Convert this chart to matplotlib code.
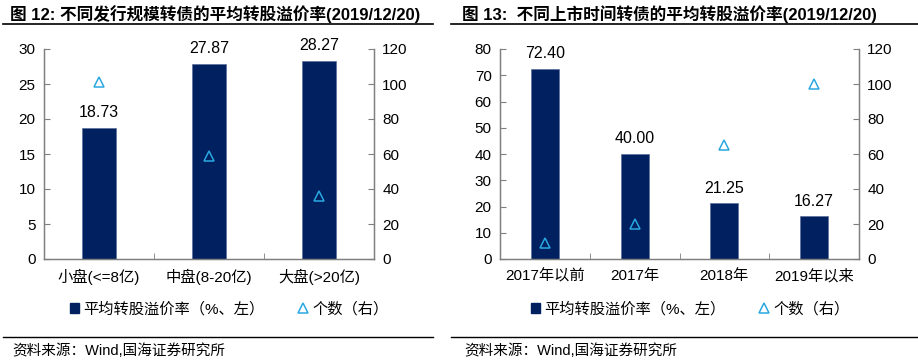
import matplotlib
matplotlib.use("Agg")
import matplotlib.pyplot as plt
from matplotlib.patches import Patch
from matplotlib.lines import Line2D
import numpy as np

plt.rcParams['font.family'] = ['Liberation Sans', 'Noto Sans CJK SC', 'DejaVu Sans']

# ---- data ----
left_categories = ["小盘(<=8亿)", "中盘(8-20亿)", "大盘(>20亿)"]
left_premium = [18.73, 27.87, 28.27]
left_count = [101, 59, 36]

right_categories = ["2017年以前", "2017年", "2018年", "2019年以来"]
right_premium = [72.40, 40.00, 21.25, 16.27]
right_count = [9, 20, 65, 100]

left_title = "图 12: 不同发行规模转债的平均转股溢价率(2019/12/20)"
right_title = "图 13:  不同上市时间转债的平均转股溢价率(2019/12/20)"
source_text = "资料来源：Wind,国海证券研究所"
legend_bar = "平均转股溢价率（%、左）"
legend_tri = "个数（右）"

BAR = "#002060"
TRI = "#2AA8E0"
SPINE = "#7f7f7f"

W, H = 918, 360
fig = plt.figure(figsize=(W / 100, H / 100), dpi=100)


def px_axes(x0, y0, x1, y1):
    return fig.add_axes([x0 / W, 1 - y1 / H, (x1 - x0) / W, (y1 - y0) / H])


def draw_panel(x0, x1, cats, prem, cnt, ylim_l, yticks_l, title, title_x, line_x0, line_x1, leg_x):
    ax = px_axes(x0, 49, x1, 259)
    n = len(cats)
    x = np.arange(n)
    ax.bar(x, prem, width=0.31, color=BAR, edgecolor="#5b6f99", linewidth=0.5, zorder=2)
    for xi, v in zip(x, prem):
        ax.annotate(f"{v:.2f}", (xi, v), xytext=(0, 5.5), textcoords="offset points",
                    ha="center", va="bottom", fontsize=11.5, color="black")
    ax.set_xlim(-0.5, n - 0.5)
    ax.set_ylim(*ylim_l)
    ax.set_yticks(yticks_l)
    ax.set_xticks(x)
    ax.set_xticklabels(cats, fontsize=11)
    ax.set_xticks(np.arange(n + 1) - 0.5, minor=True)
    ax.tick_params(axis="x", which="major", length=0, pad=7)
    ax.tick_params(axis="x", which="minor", direction="in", length=4, color=SPINE)
    ax.tick_params(axis="y", direction="in", length=4, color=SPINE, labelsize=11, pad=6)
    for s in ["left", "bottom", "right"]:
        ax.spines[s].set_color(SPINE)
        ax.spines[s].set_linewidth(1.0)
    ax.spines["top"].set_visible(False)

    ax2 = ax.twinx()
    ax2.plot(x, cnt, linestyle="none", marker="^", markersize=6.5, markerfacecolor="none",
             markeredgecolor=TRI, markeredgewidth=1.1, zorder=3)
    ax2.set_ylim(0, 120)
    ax2.set_yticks(np.arange(0, 121, 20))
    ax2.tick_params(axis="y", direction="in", length=4, color=SPINE, labelsize=11, pad=6)
    for s in ["left", "bottom", "right"]:
        ax2.spines[s].set_color(SPINE)
    ax2.spines["top"].set_visible(False)

    # title
    fig.text(title_x / W, 1 - 14 / H, title, fontsize=12, fontweight="bold",
             ha="left", va="center")
    fig.add_artist(Line2D([line_x0 / W, line_x1 / W], [1 - 24 / H, 1 - 24 / H],
                          color="black", linewidth=1.2))
    # source
    fig.add_artist(Line2D([line_x0 / W, line_x1 / W], [1 - 337 / H, 1 - 337 / H],
                          color="black", linewidth=1.0))
    fig.text((title_x + 2) / W, 1 - 351 / H, source_text, fontsize=10.5, ha="left", va="center")

    handles = [Patch(facecolor=BAR, edgecolor=BAR),
               Line2D([], [], linestyle="none", marker="^", markersize=6.5,
                      markerfacecolor="none", markeredgecolor=TRI, markeredgewidth=1.1)]
    fig.legend(handles, [legend_bar, legend_tri], loc="center",
               bbox_to_anchor=(leg_x / W, 1 - 309 / H), ncol=2, frameon=False,
               fontsize=11, handlelength=0.6, handleheight=0.6, handletextpad=0.3,
               columnspacing=2.2)


draw_panel(44, 374, left_categories, left_premium, left_count, (0, 30), np.arange(0, 31, 5),
           left_title, 10, 3, 433, 229)
draw_panel(500, 859, right_categories, right_premium, right_count, (0, 80), np.arange(0, 81, 10),
           right_title, 462, 451, 918, 690)

fig.savefig("out.png", dpi=100)
